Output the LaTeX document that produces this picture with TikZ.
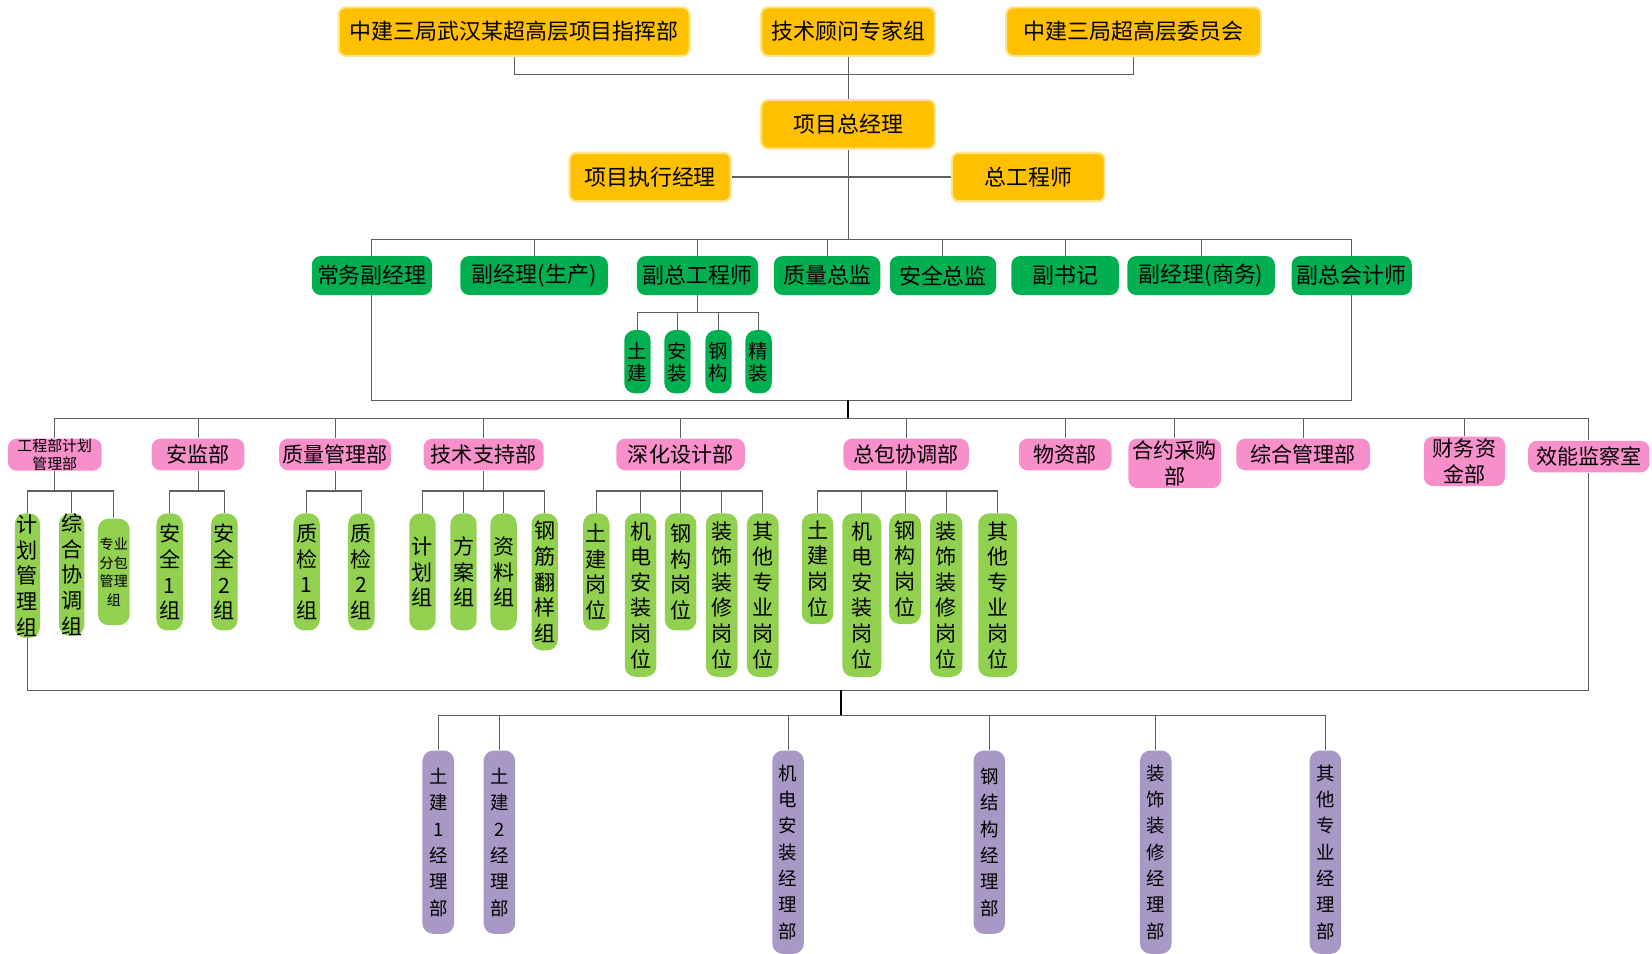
\documentclass[tikz,border=0pt]{standalone}
\usepackage{fontspec}
\setmainfont{Noto Sans CJK SC}
\usetikzlibrary{backgrounds}
\definecolor{ygold}{HTML}{FFC000}
\definecolor{yrim}{HTML}{FFE38A}
\definecolor{gdark}{HTML}{00B050}
\definecolor{glight}{HTML}{92D050}
\definecolor{prose}{HTML}{F78FCB}
\definecolor{plilac}{HTML}{A898C6}
\definecolor{wire}{HTML}{5F5F5F}
\tikzset{
  bw/.style={minimum width=#1*0.6pt},
  bh/.style={minimum height=#1*0.6pt},
  conn/.style={draw=wire, line width=0.6pt},
  trunk/.style={draw=black, line width=1.3pt},
  lead/.style={draw=yrim, line width=1.2pt, fill=ygold, rounded corners=4pt,
    inner sep=0pt, bh=46, font=\fontsize{12.5}{15}\selectfont},
  deputy/.style={fill=gdark, rounded corners=5pt, inner sep=0pt, bh=37,
    font=\fontsize{12.5}{15}\selectfont},
  trade/.style={fill=gdark, rounded corners=6pt, inner sep=0pt, bw=25, bh=60,
    anchor=north, align=center, font=\fontsize{11}{12.5}\selectfont},
  dept/.style={fill=prose, rounded corners=5pt, inner sep=0pt, bh=30,
    anchor=north, align=center, font=\fontsize{12}{15}\selectfont},
  crew/.style={fill=glight, rounded corners=6pt, inner sep=0pt, bw=25, bh=111,
    anchor=north, align=center, font=\fontsize{12}{14.6}\selectfont},
  branch/.style={fill=plilac, rounded corners=6pt, inner sep=0pt, bw=30, bh=174,
    anchor=north, align=center, font=\fontsize{10.5}{15}\selectfont}
}
\begin{document}
\begin{tikzpicture}[x=0.6pt, y=-0.6pt]
  \useasboundingbox (0,0) rectangle (1568,905);
  % levels of the buses
  \coordinate (topbus) at (0,71);
  \coordinate (mgrbus) at (0,227);
  \coordinate (techbus) at (0,297);
  \coordinate (loopbus) at (0,380);
  \coordinate (deptbus) at (0,397);
  \coordinate (grpbus) at (0,466);
  \coordinate (loopbot) at (0,655);
  \coordinate (lowbus) at (0,679);
  \coordinate (lowhub) at (798,655);

  % leadership
  \node[lead, bw=333] (hq) at (488,30) {中建三局武汉某超高层项目指挥部};
  \node[lead, bw=165] (expert) at (805,30) {技术顾问专家组};
  \node[lead, bw=242] (board) at (1076,30) {中建三局超高层委员会};
  \node[lead, bw=165] (pm) at (805,118) {项目总经理};
  \node[lead, bw=153] (epm) at (617,168) {项目执行经理};
  \node[lead, bw=145] (ce) at (976,168) {总工程师};

  % deputies
  \node[deputy, bw=114] (d1) at (353,261.5) {常务副经理};
  \node[deputy, bw=140] (d2) at (507,261.5) {副经理(生产)};
  \node[deputy, bw=115] (d3) at (662,261.5) {副总工程师};
  \node[deputy, bw=101] (d4) at (785,261.5) {质量总监};
  \node[deputy, bw=101] (d5) at (895,261.5) {安全总监};
  \node[deputy, bw=102] (d6) at (1011,261.5) {副书记};
  \node[deputy, bw=140] (d7) at (1140,261.5) {副经理(商务)};
  \node[deputy, bw=114] (d8) at (1283,261.5) {副总会计师};

  \node[trade] (s1) at (605,313) {土\\建};
  \node[trade] (s2) at (643,313) {安\\装};
  \node[trade] (s3) at (682,313) {钢\\构};
  \node[trade] (s4) at (720,313) {精\\装};

  % departments
  \node[dept, bw=89, font=\fontsize{8.5}{10.4}\selectfont] (q1) at (52,416) {工程部计划\\管理部};
  \node[dept, bw=88] (q2) at (188,416) {安监部};
  \node[dept, bw=106] (q3) at (318,416) {质量管理部};
  \node[dept, bw=114] (q4) at (459,416) {技术支持部};
  \node[dept, bw=122] (q5) at (646,416) {深化设计部};
  \node[dept, bw=119] (q6) at (860,416) {总包协调部};
  \node[dept, bw=88] (q7) at (1011,416) {物资部};
  \node[dept, bw=88, bh=47] (q8) at (1115,416) {合约采购\\部};
  \node[dept, bw=127] (q9) at (1237,416) {综合管理部};
  \node[dept, bw=77, bh=47] (q10) at (1390,414) {财务资\\金部};
  \node[dept, bw=115] (q11) at (1508,418) {效能监察室};

  % groups and posts
  \node[crew, bw=24, bh=118] (jh1) at (26,487) {计\\划\\管\\理\\组};
  \node[crew, bw=24, bh=116] (jh2) at (68,487) {综\\合\\协\\调\\组};
  \node[crew, bw=30, bh=101, font=\fontsize{8}{10.5}\selectfont] (jh3) at (108,492) {专业\\分包\\管理\\组};
  \node[crew] (aj1) at (161,487) {安\\全\\1\\组};
  \node[crew] (aj2) at (213,487) {安\\全\\2\\组};
  \node[crew] (zl1) at (291,487) {质\\检\\1\\组};
  \node[crew] (zl2) at (343,487) {质\\检\\2\\组};
  \node[crew] (js1) at (401,487) {计\\划\\组};
  \node[crew] (js2) at (440,487) {方\\案\\组};
  \node[crew] (js3) at (478,487) {资\\料\\组};
  \node[crew, bh=130] (js4) at (517,487) {钢\\筋\\翻\\样\\组};
  \node[crew] (sh1) at (566,487) {土\\建\\岗\\位};
  \node[crew, bw=30, bh=155] (sh2) at (608,487) {机\\电\\安\\装\\岗\\位};
  \node[crew, bw=30] (sh3) at (646,487) {钢\\构\\岗\\位};
  \node[crew, bw=30, bh=155] (sh4) at (685,487) {装\\饰\\装\\修\\岗\\位};
  \node[crew, bw=30, bh=155] (sh5) at (724,487) {其\\他\\专\\业\\岗\\位};
  \node[crew, bw=30, bh=105] (zb1) at (776,487) {土\\建\\岗\\位};
  \node[crew, bw=37, bh=155] (zb2) at (818,487) {机\\电\\安\\装\\岗\\位};
  \node[crew, bw=30, bh=105] (zb3) at (859,487) {钢\\构\\岗\\位};
  \node[crew, bw=31, bh=155] (zb4) at (898,487) {装\\饰\\装\\修\\岗\\位};
  \node[crew, bw=37, bh=155] (zb5) at (947,487) {其\\他\\专\\业\\岗\\位};

  % site managers
  \node[branch] (m1) at (416,712) {土\\建\\1\\经\\理\\部};
  \node[branch] (m2) at (474,712) {土\\建\\2\\经\\理\\部};
  \node[branch, bh=193] (m3) at (748,712) {机\\电\\安\\装\\经\\理\\部};
  \node[branch] (m4) at (939,712) {钢\\结\\构\\经\\理\\部};
  \node[branch, bh=193] (m5) at (1097,712) {装\\饰\\装\\修\\经\\理\\部};
  \node[branch, bh=193] (m6) at (1258,712) {其\\他\\专\\业\\经\\理\\部};

  \begin{scope}[on background layer]
    \draw[conn] (hq.south) |- (expert.south |- topbus) -| (board.south);
    \draw[conn] (expert.south) -- (pm.north);
    \draw[conn] (epm.east) -- (ce.west);
    \draw[conn] (pm.south) -- (pm.south |- mgrbus);
    \draw[conn] (d1.north) |- (pm.south |- mgrbus) -| (d8.north);
    \foreach \n in {d2,d3,d4,d5,d6,d7}
      \draw[conn] (\n.north) -- (\n.north |- mgrbus);
    \draw[conn] (d3.south) -- (d3.south |- techbus);
    \draw[conn] (s1.north) |- (d3.south |- techbus) -| (s4.north);
    \foreach \n in {s2,s3}
      \draw[conn] (\n.north) -- (\n.north |- techbus);
    \draw[conn] (d1.south) |- (pm.south |- loopbus) -| (d8.south);
    \draw[trunk] (pm.south |- loopbus) -- (pm.south |- deptbus);
    \draw[conn] (q1.north) |- (pm.south |- deptbus) -| (q11.north);
    \foreach \n in {q2,q3,q4,q5,q6,q7,q8,q9,q10}
      \draw[conn] (\n.north) -- (\n.north |- deptbus);
    \foreach \p/\a/\b/\mids in {q1/jh1/jh3/{jh2}, q2/aj1/aj2/{aj1}, q3/zl1/zl2/{zl1},
        q4/js1/js4/{js2,js3}, q5/sh1/sh5/{sh2,sh3,sh4}, q6/zb1/zb5/{zb2,zb3,zb4}}{
      \draw[conn] (\p.south) -- (\p.south |- grpbus);
      \draw[conn] (\a.north) |- (\p.south |- grpbus) -| (\b.north);
      \foreach \c in \mids
        \draw[conn] (\c.north) -- (\c.north |- grpbus);
    }
    \draw[conn] (q11.south) |- (lowhub) -| (jh1.south);
    \draw[trunk] (lowhub) -- (lowhub |- lowbus);
    \draw[conn] (m1.north) |- (lowhub |- lowbus) -| (m6.north);
    \foreach \n in {m2,m3,m4,m5}
      \draw[conn] (\n.north) -- (\n.north |- lowbus);
  \end{scope}
\end{tikzpicture}
\end{document}
